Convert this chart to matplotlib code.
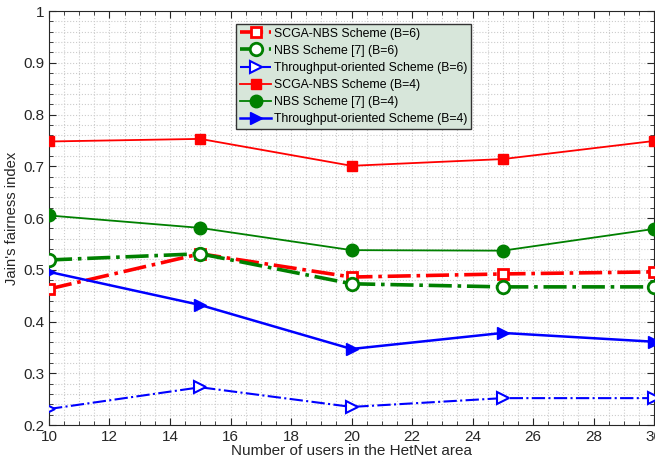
import numpy as np
import matplotlib.pyplot as plt
from matplotlib.ticker import MultipleLocator

plt.rcParams['font.family'] = ['Liberation Sans', 'DejaVu Sans']

users = [10, 15, 20, 25, 30]

scga_b6 = [0.463, 0.531, 0.486, 0.492, 0.496]
nbs_b6 = [0.519, 0.531, 0.473, 0.467, 0.467]
thr_b6 = [0.231, 0.273, 0.235, 0.252, 0.252]
scga_b4 = [0.748, 0.753, 0.701, 0.714, 0.749]
nbs_b4 = [0.605, 0.581, 0.538, 0.537, 0.579]
thr_b4 = [0.496, 0.432, 0.347, 0.378, 0.361]

labels = ['SCGA-NBS Scheme (B=6)', 'NBS Scheme [7] (B=6)',
          'Throughput-oriented Scheme (B=6)', 'SCGA-NBS Scheme (B=4)',
          'NBS Scheme [7] (B=4)', 'Throughput-oriented Scheme (B=4)']

fig = plt.figure(figsize=(6.55, 4.62), dpi=100)
ax = fig.add_axes([0.0748, 0.080, 0.9237, 0.896])

green = '#008000'
ax.plot(users, scga_b6, color='red', ls='-.', lw=2.6, marker='s', ms=7,
        mfc='white', mew=2, label=labels[0], zorder=3)
ax.plot(users, nbs_b6, color=green, ls='-.', lw=2.6, marker='o', ms=9,
        mfc='white', mew=2, label=labels[1], zorder=3)
ax.plot(users, thr_b6, color='blue', ls='-.', lw=1.5, marker='>', ms=9,
        mfc='white', mew=1.5, label=labels[2], zorder=3)
ax.plot(users, scga_b4, color='red', ls='-', lw=1.3, marker='s', ms=7,
        label=labels[3], zorder=3)
ax.plot(users, nbs_b4, color=green, ls='-', lw=1.3, marker='o', ms=9,
        label=labels[4], zorder=3)
ax.plot(users, thr_b4, color='blue', ls='-', lw=1.8, marker='>', ms=9,
        label=labels[5], zorder=3)

ax.set_xlim(10, 30)
ax.set_ylim(0.2, 1.0)
ax.xaxis.set_major_locator(MultipleLocator(2))
ax.xaxis.set_minor_locator(MultipleLocator(0.5))
ax.yaxis.set_major_locator(MultipleLocator(0.1))
ax.yaxis.set_minor_locator(MultipleLocator(0.02))
ax.set_yticklabels([f'{v:g}' for v in ax.get_yticks()])
ax.grid(True, which='both', ls=':', color='#cccccc', lw=0.8)
ax.tick_params(which='both', direction='in', top=True, right=True,
               labelsize=11, colors='#262626')
ax.tick_params(which='major', length=5)
ax.tick_params(which='minor', length=3)
for s in ax.spines.values():
    s.set_color('#262626')

ax.set_xlabel('Number of users in the HetNet area', fontsize=11,
              color='#262626', labelpad=0)
ax.set_ylabel("Jain's fairness index", fontsize=10.6, color='#262626')
ax.yaxis.set_label_coords(-0.05, 0.5)

leg = ax.legend(loc='upper left', bbox_to_anchor=(0.309, 0.969),
                fontsize=8.8, facecolor='#d7e6da', edgecolor='#333333',
                framealpha=1, fancybox=False, handlelength=2.6,
                borderpad=0.3, labelspacing=0.42, handletextpad=0.25,
                borderaxespad=0)
leg.get_frame().set_linewidth(1)

fig.savefig('out.png', dpi=100)
